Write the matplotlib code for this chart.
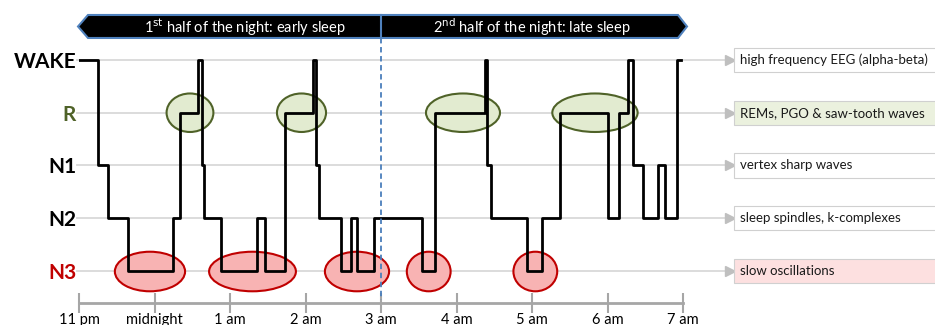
"""
Hypnogram of one night of sleep with stage annotations
"""
import numpy as np
import matplotlib
matplotlib.use('Agg')
import matplotlib.pyplot as plt
from matplotlib.patches import Ellipse, Polygon, Rectangle

plt.rcParams['font.family'] = ['Lato', 'DejaVu Sans']

# stages (bottom to top)
stages = ['N3', 'N2', 'N1', 'R', 'WAKE']
stage_colors = ['#c00000', 'black', 'black', '#4f6228', 'black']
stage_notes = ['slow oscillations', 'sleep spindles, k-complexes', 'vertex sharp waves',
               'REMs, PGO & saw-tooth waves', 'high frequency EEG (alpha-beta)']
note_fills = ['#fde0e0', 'white', 'white', '#ebf1de', 'white']

# hours after 11 pm
hour_ticks = [0, 1, 2, 3, 4, 5, 6, 7, 8]
hour_labels = ['11 pm', 'midnight', '1 am', '2 am', '3 am', '4 am', '5 am', '6 am', '7 am']

# hypnogram: time of change (h after 11 pm) and new stage
hyp_time = [0, 0.248, 0.384, 0.649, 1.241, 1.338, 1.576, 1.623, 1.656, 1.881,
            2.354, 2.464, 2.728, 3.099, 3.139, 3.179, 3.466, 3.598, 3.686, 3.907,
            4.547, 4.715, 5.377, 5.404, 5.457, 5.930, 6.136, 6.371, 7.011, 7.146,
            7.275, 7.334, 7.474, 7.673, 7.762, 7.917, 7.974]
hyp_stage = ['WAKE', 'N1', 'N2', 'N3', 'N2', 'R', 'WAKE', 'N1', 'N2', 'N3',
             'N2', 'N3', 'R', 'WAKE', 'N1', 'N2', 'N3', 'N2', 'N3', 'N2',
             'N3', 'R', 'WAKE', 'N1', 'N2', 'N3', 'N2', 'R', 'N2', 'R',
             'WAKE', 'N1', 'N2', 'N1', 'N2', 'WAKE', 'WAKE']

# highlighted episodes (center h, width h)
rem_center = [1.470, 2.947, 5.086, 6.834]
rem_width = [0.62, 0.65, 0.98, 1.13]
sws_center = [0.940, 2.298, 3.682, 4.632, 6.044]
sws_width = [0.93, 1.15, 0.85, 0.58, 0.58]

halves = ['1$^{\\mathrm{st}}$ half of the night: early sleep',
          '2$^{\\mathrm{nd}}$ half of the night: late sleep']

fig = plt.figure(figsize=(9.35, 3.25), dpi=100)
ax = fig.add_axes([79 / 935, 0, 1 - 79 / 935, 1])
ax.set_xlim(0, 856 / 75.5)
ax.set_ylim(-1.024, 5.137)

level = {s: i for i, s in enumerate(stages)}

# gridlines with arrows to the notes
for i in range(len(stages)):
    ax.plot([-0.03, 8.56], [i, i], color='#d9d9d9', lw=1.3, zorder=1, clip_on=False)
    ax.plot([8.62], [i], marker='>', color='#bfbfbf', markersize=7, zorder=2)
    ax.add_patch(Rectangle((8.675, i - 0.23), 2.7, 0.46, facecolor=note_fills[i],
                           edgecolor='#d0d0d0', lw=0.8, zorder=2))
    ax.text(8.76, i, stage_notes[i], fontsize=9.5, va='center', ha='left',
            color='#1a1a1a', zorder=3)

# highlight ellipses
for c, w in zip(rem_center, rem_width):
    ax.add_patch(Ellipse((c, level['R']), w, 0.73, facecolor='#e2ebd0',
                         edgecolor='#4f6228', lw=1.5, zorder=3))
for c, w in zip(sws_center, sws_width):
    ax.add_patch(Ellipse((c, level['N3'] - 0.01), w, 0.75, facecolor='#f8b3b3',
                         edgecolor='#c00000', lw=1.5, zorder=3))

# hypnogram
ax.step(hyp_time, [level[s] for s in hyp_stage], where='post', color='black',
        lw=2.0, zorder=4)

# 3 am divider
ax.plot([4, 4], [4.417, -0.55], color='#4a7ebb', lw=1.3, ls=(0, (3, 2)), zorder=5)

# banner
banner = Polygon([(-0.013, 4.635), (0.119, 4.853), (7.934, 4.853), (8.053, 4.635),
                  (7.934, 4.417), (0.119, 4.417)], closed=True, facecolor='black',
                 edgecolor='#4f81bd', lw=1.5, zorder=5, clip_on=False)
ax.add_patch(banner)
ax.plot([4, 4], [4.417, 4.853], color='#4f81bd', lw=1.5, zorder=6)
ax.text(2.2, 4.625, halves[0], color='white', fontsize=10.5, ha='center', va='center', zorder=7)
ax.text(6.0, 4.625, halves[1], color='white', fontsize=10.5, ha='center', va='center', zorder=7)

# axes styling
for side in ['top', 'right', 'left']:
    ax.spines[side].set_visible(False)
ax.spines['bottom'].set_position(('data', -0.607))
ax.spines['bottom'].set_bounds(0, 8)
ax.spines['bottom'].set_color('#a6a6a6')
ax.spines['bottom'].set_linewidth(2)
ax.set_xticks(hour_ticks)
ax.set_xticklabels(hour_labels, fontsize=10.5)
ax.tick_params(axis='x', direction='inout', length=14, width=1.5, color='#a6a6a6', pad=0)

ax.set_yticks(range(len(stages)))
ax.set_yticklabels(stages, fontsize=15, fontweight='bold')
for lab, col in zip(ax.get_yticklabels(), stage_colors):
    lab.set_color(col)
ax.tick_params(axis='y', length=0, pad=2)

fig.savefig('out.png', dpi=100)
